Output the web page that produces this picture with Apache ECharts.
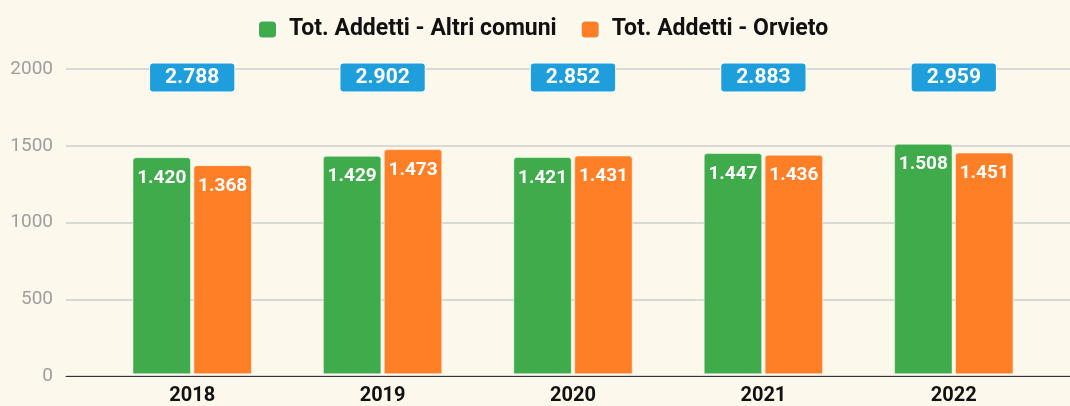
<!DOCTYPE html>
<html>
<head>
<meta charset="utf-8">
<script src="https://cdn.jsdelivr.net/npm/echarts@6/dist/echarts.min.js"></script>
<style>
html,body{margin:0;padding:0;background:#FCF8EC;}
#c{width:1070px;height:406px;}
</style>
</head>
<body>
<div id="c"></div>
<script>
const categories = ['2018', '2019', '2020', '2021', '2022'];
const altriComuni = [1420, 1429, 1421, 1447, 1508];
const orvieto = [1368, 1473, 1431, 1436, 1451];
const totals = [2788, 2902, 2852, 2883, 2959];
const yTicks = [0, 500, 1000, 1500, 2000];
const TOTAL_LABEL_Y = 1945;

function fmt(n) {
  return String(n).replace(/\B(?=(\d{3})+(?!\d))/g, '.');
}

const chart = echarts.init(document.getElementById('c'));
const FONT = 'Roboto';
chart.setOption({
  backgroundColor: '#FCF8EC',
  textStyle: { fontFamily: FONT },
  animation: false,
  legend: {
    top: 13,
    left: 252,
    itemWidth: 19,
    itemHeight: 18,
    itemGap: 23,
    icon: 'roundRect',
    textStyle: { fontSize: 23, fontWeight: 'bold', color: '#111', fontFamily: FONT, padding: [0, 0, 0, 7] },
    data: ['Tot. Addetti - Altri comuni', 'Tot. Addetti - Orvieto']
  },
  grid: [
    { left: 66, right: 0, top: 69, bottom: 30 },
    { left: 97, right: 21, top: 69, bottom: 30 }
  ],
  xAxis: [
    { type: 'category', gridIndex: 0, data: categories,
      axisLine: { show: true, lineStyle: { color: '#333', width: 1 } },
      axisTick: { show: false }, axisLabel: { show: false } },
    { type: 'category', gridIndex: 1, data: categories,
      axisLine: { show: false }, axisTick: { show: false },
      axisLabel: { fontSize: 20, fontWeight: 'bold', color: '#111', margin: 12, fontFamily: FONT } }
  ],
  yAxis: [
    { type: 'value', gridIndex: 0, min: yTicks[0], max: yTicks[yTicks.length - 1], interval: 500,
      axisLine: { show: false }, axisTick: { show: false },
      axisLabel: { fontSize: 19, color: '#9E9E9E', margin: 13, fontFamily: FONT, formatter: v => String(v) },
      splitLine: { lineStyle: { color: '#CFCFCF', width: 1.5 } } },
    { type: 'value', gridIndex: 1, min: yTicks[0], max: yTicks[yTicks.length - 1], interval: 500,
      show: false, splitLine: { show: false } }
  ],
  series: [
    {
      name: 'Tot. Addetti - Altri comuni', type: 'bar', xAxisIndex: 1, yAxisIndex: 1,
      data: altriComuni, barWidth: 58, barGap: '5%',
      itemStyle: { color: '#3FAB4A', borderRadius: [3, 3, 0, 0], borderColor: '#FFFFFF', borderWidth: 0.5 },
      label: { show: true, position: 'insideTop', distance: 11, color: '#fff', fontWeight: 'bold', fontSize: 19,
        fontFamily: FONT, formatter: p => fmt(p.value) }
    },
    {
      name: 'Tot. Addetti - Orvieto', type: 'bar', xAxisIndex: 1, yAxisIndex: 1,
      data: orvieto, barWidth: 58,
      itemStyle: { color: '#FF7F27', borderRadius: [3, 3, 0, 0], borderColor: '#FFFFFF', borderWidth: 0.5 },
      label: { show: true, position: 'insideTop', distance: 11, color: '#fff', fontWeight: 'bold', fontSize: 19,
        fontFamily: FONT, formatter: p => fmt(p.value) }
    },
    {
      name: 'Totale', type: 'scatter', xAxisIndex: 1, yAxisIndex: 1,
      symbolSize: 0, silent: true,
      itemStyle: { opacity: 1 },
      data: totals.map((t, i) => [categories[i], TOTAL_LABEL_Y]),
      label: { show: true, position: 'inside', color: '#fff', fontWeight: 'bold', fontSize: 21,
        fontFamily: FONT, lineHeight: 21, backgroundColor: '#1E9FDB', borderRadius: 3, opacity: 1,
        borderColor: '#fff', borderWidth: 1,
        padding: [4, 15, 3, 15], formatter: p => fmt(totals[p.dataIndex]) }
    }
  ]
});
</script>
</body>
</html>
